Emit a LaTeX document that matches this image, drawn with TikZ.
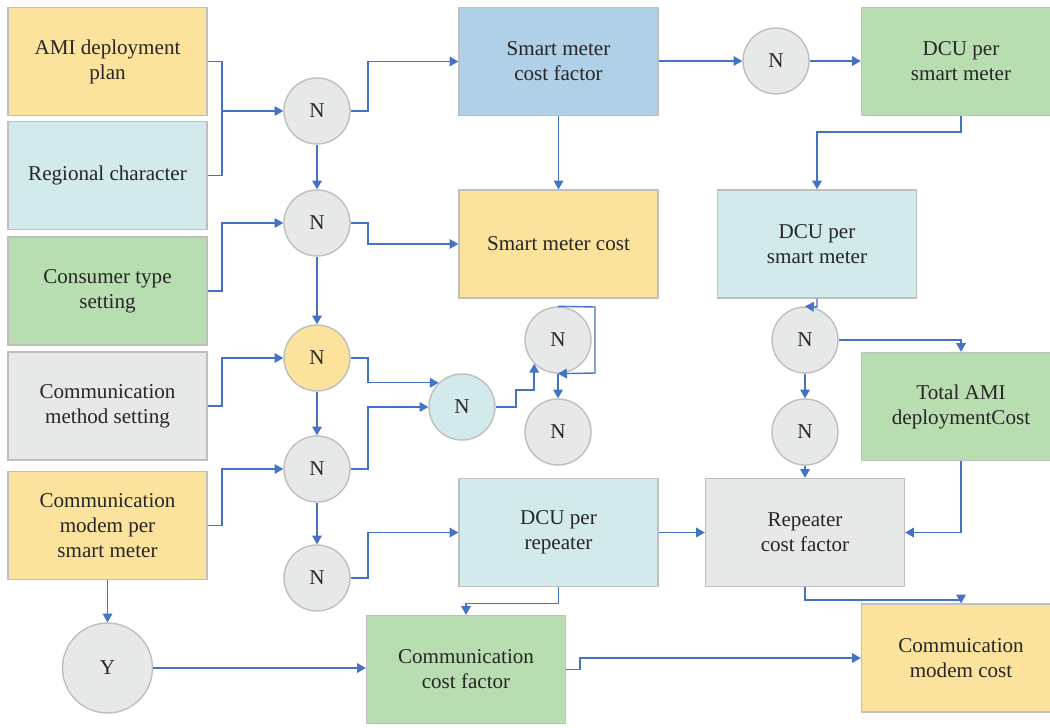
\documentclass[tikz,border=0pt]{standalone}
\usepackage{fontspec}
\setmainfont{Liberation Serif}
\usetikzlibrary{arrows.meta,positioning,calc}

\definecolor{ylw}{HTML}{FBE29D}
\definecolor{cyn}{HTML}{D2EAEB}
\definecolor{grn}{HTML}{B8DDB1}
\definecolor{gry}{HTML}{E7E8E8}
\definecolor{blu}{HTML}{B0D0E8}
\definecolor{lnk}{HTML}{4472C4}
\definecolor{brd}{HTML}{BFBFBF}

\begin{document}
\begin{tikzpicture}[x=0.02cm, y=-0.02cm,
            every node/.style={font=\fontsize{12}{14.2}\selectfont, text=black!85},
            box/.style={draw=brd, thick, minimum width=3.98cm, minimum height=2.16cm, align=center, inner sep=2pt},
            nd/.style={draw=brd, thick, circle, fill=gry, minimum size=1.32cm, inner sep=0pt},
            ln/.style={draw=lnk, line width=0.8pt},
            arr/.style={ln, -{Triangle[width=5.5pt,length=5pt]}}]
        \clip (0,0) rectangle (1050,727);
        \fill[white] (0,0) rectangle (1050,727);
        % left column
        \node[box, fill=ylw] (plan) at (107.5,61.5) {AMI deployment\\plan};
        \node[box, fill=cyn] (region) at (107.5,175.5) {Regional character};
        \node[box, fill=grn] (consumer) at (107.5,291) {Consumer type\\setting};
        \node[box, fill=gry] (method) at (107.5,406) {Communication\\method setting};
        \node[box, fill=ylw] (modem) at (107.5,525.5) {Communication\\modem per\\smart meter};
        % decision column
        \node[nd] (n1) at (317,111) {N};
        \node[nd] (n2) at (317,223) {N};
        \node[nd, fill=ylw] (n3) at (317,358) {N};
        \node[nd] (n4) at (317,469) {N};
        \node[nd] (n5) at (317,578) {N};
        \node[nd, minimum size=1.8cm] (y) at (107.5,668) {Y};
        % middle
        \node[box, fill=blu] (smcf) at (558.5,61.5) {Smart meter\\cost factor};
        \node[box, fill=ylw] (smc) at (558.5,244) {Smart meter cost};
        \node[nd, fill=cyn] (nc) at (462,407) {N};
        \node[nd] (na) at (558,340) {N};
        \node[nd] (nb) at (558,432) {N};
        \node[box, fill=cyn] (dcur) at (558.5,532.5) {DCU per\\repeater};
        \node[box, fill=grn] (ccf) at (466,669.5) {Communication\\cost factor};
        % right
        \node[nd] (nt) at (776,61) {N};
        \node[box, fill=grn] (dcus1) at (961,61.5) {DCU per\\smart meter};
        \node[box, fill=cyn] (dcus2) at (817,244) {DCU per\\smart meter};
        \node[nd] (nr1) at (805,340) {N};
        \node[nd] (nr2) at (805,432) {N};
        \node[box, fill=grn] (total) at (961,406.5) {Total AMI\\deploymentCost};
        \node[box, fill=gry] (rep) at (805,532.5) {Repeater\\cost factor};
        \node[box, fill=ylw] (cmc) at (961,658) {Commuication\\modem cost};

        % connectors
        \draw[ln] (plan.east) -| (222,111);
        \draw[arr] (region.east) -| (222,111) -- (n1.west);
        \draw[arr] (n1.east) -- (368,111) |- (smcf.west);
        \draw[arr] (n1) -- (n2);
        \draw[arr] (consumer.east) -| (222,223) -- (n2.west);
        \draw[arr] (n2.east) -- (368,223) |- (smc.west);
        \draw[arr] (n2) -- (n3);
        \draw[arr] (smcf) -- (smc);
        \draw[arr] (method.east) -| (222,358) -- (n3.west);
        \draw[arr] (n3.east) -- (368,358) |- (nc.134);
        \draw[arr] (n3) -- (n4);
        \draw[arr] (modem.east) -| (222,469) -- (n4.west);
        \draw[arr] (n4.east) -- (368,469) |- (nc.west);
        \draw[arr] (n4) -- (n5);
        \draw[arr] (nc.east) -- (516,407) -- (516,390) -| (na.225);
        \draw[arr] (na.north) -- (595,307) -- (595,373) -- (na.south);
        \draw[arr] (na) -- (nb);
        \draw[arr] (smcf.east |- nt.west) -- (nt.west);
        \draw[arr] (nt.east) -- (dcus1.west |- nt.east);
        \draw[arr] (dcus1.south) -- (961,132) -| (dcus2.north);
        \draw[arr] (dcus2.south) -- (817,307) -- (nr1.north);
        \draw[arr] (nr1.east) -| (total.north);
        \draw[arr] (nr1) -- (nr2);
        \draw[arr] (nr2) -- (rep);
        \draw[arr] (total.south) |- (rep.east);
        \draw[arr] (dcur.east) -- (rep.west);
        \draw[arr] (dcur.south) -- ++(0,16) -| (ccf.north);
        \draw[arr] (rep.south) -- (805,600) -| (cmc.north);
        \draw[arr] (n5.east) -- (368,578) |- (dcur.west);
        \draw[arr] (modem.south) -- (y.north);
        \draw[arr] (y.east) -- (ccf.west |- y.east);
        \draw[arr] (ccf.east) -- (580,669.5) |- (cmc.west);
\end{tikzpicture}
\end{document}
